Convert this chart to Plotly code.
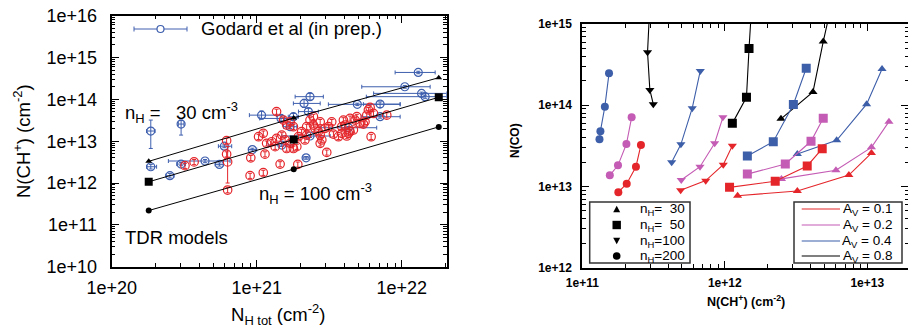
import plotly.graph_objects as go

# ---------------- Left panel data ----------------
model_NH = [1.8e20, 1.8e21, 1.8e22]
model_CH_n30 = [3.3e12, 3.6e13, 3.3e14]
model_CH_n50 = [1.07e12, 1.1e13, 1.12e14]
model_CH_n100 = [2.2e11, 2.15e12, 2.2e13]

blue_NH = [1.86e20, 3.01e20, 1.86e20, 2.52e20, 3.01e20, 4.40e20, 5.53e20, 5.98e20, 9.33e20,
           1.08e21, 1.47e21, 1.79e21, 1.70e21, 2.12e21, 2.33e21, 2.27e21, 2.33e21, 2.19e21,
           1.49e21, 4.29e21, 4.94e21, 7.09e21, 7.09e21, 1.05e22, 1.30e22, 1.37e22, 1.45e22]
blue_CH = [1.75e13, 2.57e13, 2.45e12, 1.5e12, 2.84e12, 3.36e12, 2.79e12, 7.6e12, 6.3e12,
           4.2e13, 3.5e13, 3.85e13, 2.22e13, 8.0e13, 1.16e14, 5.1e13, 1.33e13, 4.0e12,
           8.1e12, 2.1e13, 7.6e13, 7.7e13, 3.85e13, 2.0e14, 4.4e14, 1.39e14, 1.16e14]
blue_NH_err_minus = [0.12e20, 0.13e20, 0.12e20, 0.16e20, 0.2e20, 1.94e20, 0.37e20, 0.54e20, 0.57e20,
                     1.9e20, 4.2e20, 1.4e20, 1.7e20, 3.3e20, 4.9e20, 3.3e20, 8.4e20, 1.0e20,
                     2.9e20, 1.55e21, 1.82e21, 1.65e21, 1.79e21, 5.2e21, 4.0e21, 7.3e21, 8.8e21]
blue_NH_err_plus = [0.13e20, 0.14e20, 0.18e20, 0.17e20, 0.21e20, 2.15e20, 0.36e20, 0.74e20, 0.67e20,
                    2.9e20, 3.2e20, 1.5e20, 1.9e20, 6.2e20, 5.5e20, 3.9e20, 8.8e20, 1.0e20,
                    3.0e20, 2.43e21, 4.81e21, 2.66e21, 2.66e21, 5.2e21, 4.0e21, 6.7e21, 5.9e21]
blue_CH_err_minus = [1.08e13, 1.17e13, 0.29e12, 0.18e12, 0.25e12, 0.3e12, 0.25e12, 0.6e12, 0.5e12,
                     0.81e13, 0.47e13, 0.76e13, 0.2e13, 1.6e13, 0.2e14, 0.8e13, 0.1e13, 0.3e12,
                     0.6e12, 0.15e13, 0.5e13, 1.3e13, 0.3e13, 0.15e14, 0.3e14, 0.1e14, 0.1e14]
blue_CH_err_plus = [1.45e13, 0.63e13, 0.34e12, 0.2e12, 0.25e12, 0.3e12, 0.25e12, 0.6e12, 0.5e12,
                    1.06e13, 0.57e13, 0.75e13, 0.2e13, 2.0e13, 0.23e14, 1.0e13, 0.1e13, 0.3e12,
                    0.6e12, 0.15e13, 0.5e13, 1.0e13, 0.3e13, 0.15e14, 0.3e14, 0.1e14, 0.1e14]

red_NH = [3.2e20, 3.7e20, 6.2e20, 6.2e20, 6.3e20, 9.0e20, 9.1e20, 1.11e21, 1.14e21, 1.45e21,
          1.92e21, 3.04e21, 6.15e21, 1.37e21, 1.03e21, 1.11e21, 1.17e21, 1.27e21, 1.34e21, 1.37e21,
          1.49e21, 1.57e21, 1.61e21, 1.70e21, 1.79e21, 1.89e21, 1.94e21, 2.04e21, 2.15e21, 2.21e21,
          2.33e21, 2.46e21, 2.52e21, 2.66e21, 2.74e21, 2.81e21, 2.96e21, 3.12e21, 3.29e21, 3.38e21,
          3.86e21, 3.96e21, 4.06e21, 4.18e21, 4.40e21, 4.64e21, 4.77e21, 4.90e21, 5.16e21, 5.44e21,
          5.58e21, 5.74e21, 5.89e21, 6.05e21, 6.38e21, 7.88e21, 3.66e21, 3.86e21, 1.79e21, 1.70e21,
          1.61e21, 1.53e21, 4.29e21, 2.46e21, 2.21e21, 2.74e21, 4.40e21, 2.74e21]
red_CH = [2.6e12, 3.2e12, 1.03e13, 4.9e12, 6.8e11, 1.5e12, 4.0e12, 1.77e12, 4.9e12, 2.84e12,
          2.79e12, 5.4e12, 1.28e13, 5.1e13, 1.28e13, 1.54e13, 8.9e12, 9.7e12, 7.4e12, 1.17e13,
          1.40e13, 1.07e13, 6.7e12, 8.9e12, 6.7e12, 7.4e12, 1.28e13, 1.69e13, 1.07e13, 2.22e13,
          3.2e13, 2.43e13, 2.03e13, 1.69e13, 1.40e13, 1.07e13, 2.03e13, 2.22e13, 2.9e13, 1.48e13,
          2.22e13, 3.2e13, 2.43e13, 1.33e13, 1.69e13, 1.85e13, 3.2e13, 3.85e13, 2.67e13, 2.57e13,
          2.9e13, 4.2e13, 5.6e13, 6.4e13, 4.6e13, 4.2e13, 1.28e13, 1.54e13, 2.22e13, 2.9e13,
          2.43e13, 3.2e13, 1.54e13, 3.85e13, 1.40e13, 2.9e13, 3.5e13, 8.9e12]
red_big_NH = [6.3e20]
red_big_CH = [3.2e12]
red_big_err_plus = [4.2e12]
red_big_err_minus = [2.2e12]

left_x_ticks = [1e20, 1e21, 1e22]
left_x_labels = ["1e+20", "1e+21", "1e+22"]
left_y_ticks = [1e10, 1e11, 1e12, 1e13, 1e14, 1e15, 1e16]
left_y_labels = ["1e+10", "1e+11", "1e+12", "1e+13", "1e+14", "1e+15", "1e+16"]

# ---------------- Right panel data (N(CH+), N(CO)) ----------------
n30_av01_x = [1.23e12, 3.23e12, 7.43e12, 1.07e13]; n30_av01_y = [7.7e12, 8.8e12, 1.38e13, 2.58e13]
n30_av02_x = [2.5e12, 6.03e12, 1.07e13, 1.42e13];  n30_av02_y = [1.24e13, 1.58e13, 3.03e13, 6.28e13]
n30_av04_x = [3.23e12, 6.1e12, 9.9e12, 1.27e13];   n30_av04_y = [2.51e13, 3.7e13, 1.03e14, 2.8e14]
n30_av08_x = [2.48e12, 4.16e12, 4.91e12, 6.07e12]; n30_av08_y = [6.8e13, 1.46e14, 6.07e14, 3.2e15]

n50_av01_x = [1.08e12, 2.26e12, 3.79e12, 4.83e12]; n50_av01_y = [9.75e12, 1.16e13, 1.79e13, 2.92e13]
n50_av02_x = [1.44e12, 2.66e12, 4.03e12, 4.91e12]; n50_av02_y = [1.42e13, 1.89e13, 3.6e13, 6.9e13]
n50_av04_x = [1.44e12, 2.19e12, 3.03e12, 3.73e12]; n50_av04_y = [2.37e13, 3.56e13, 1.02e14, 2.85e14]
n50_av08_x = [1.13e12, 1.42e12, 1.48e12, 1.58e12]; n50_av08_y = [5.98e13, 1.25e14, 5.0e14, 3.2e15]

n100_av01_x = [4.9e11, 7.35e11, 9.76e11, 1.13e12]; n100_av01_y = [9.0e12, 1.18e13, 1.85e13, 3.18e13]
n100_av02_x = [4.95e11, 6.7e11, 8.49e11, 9.7e11]; n100_av02_y = [1.2e13, 1.75e13, 3.4e13, 7.1e13]
n100_av04_x = [4.24e11, 4.92e11, 5.91e11, 6.73e11]; n100_av04_y = [1.98e13, 3.3e13, 9.2e13, 2.64e14]
n100_av08_x = [3.15e11, 2.98e11, 2.87e11, 3.03e11]; n100_av08_y = [1.03e14, 1.54e14, 4.48e14, 3.2e15]

n200_av01_x = [1.79e11, 2.05e11, 2.38e11, 2.58e11]; n200_av01_y = [8.5e12, 1.08e13, 1.75e13, 3.24e13]
n200_av02_x = [1.56e11, 1.78e11, 2.04e11, 2.22e11]; n200_av02_y = [1.37e13, 1.82e13, 3.33e13, 7.1e13]
n200_av04_x = [1.32e11, 1.34e11, 1.44e11, 1.54e11]; n200_av04_y = [3.8e13, 4.8e13, 9.6e13, 2.47e14]

right_x_ticks = [1e11, 1e12, 1e13]
right_x_labels = ["1e+11", "1e+12", "1e+13"]
right_y_ticks = [1e12, 1e13, 1e14, 1e15]
right_y_labels = ["1e+12", "1e+13", "1e+14", "1e+15"]

nh_legend = ["n<sub>H</sub>=\u00a0\u00a030", "n<sub>H</sub>=\u00a0\u00a050",
             "n<sub>H</sub>=100", "n<sub>H</sub>=200"]
av_legend = ["A<sub>V</sub> = 0.1", "A<sub>V</sub> = 0.2", "A<sub>V</sub> = 0.4", "A<sub>V</sub> = 0.8"]

# ---------------- styling ----------------
W, H = 908, 328
RED = "#e4262b"
MAG = "#c45bb4"
BLUE_R = "#3d5ea9"
BLUE_L = "#3e5fae"
FONT = "Liberation Sans, Arial, Helvetica, sans-serif"

def px(x):
    return x / W

def py(y):
    return 1 - y / H

fig = go.Figure()

# Observations (Godard et al)
fig.add_trace(go.Scatter(
    x=blue_NH, y=blue_CH, mode="markers", xaxis="x", yaxis="y", showlegend=False,
    marker=dict(symbol="circle-open", size=8, color=BLUE_L, line=dict(width=1.2)),
    error_x=dict(type="data", symmetric=False, array=blue_NH_err_plus, arrayminus=blue_NH_err_minus,
                 color=BLUE_L, thickness=1, width=2),
    error_y=dict(type="data", symmetric=False, array=blue_CH_err_plus, arrayminus=blue_CH_err_minus,
                 color=BLUE_L, thickness=1, width=2),
))
fig.add_trace(go.Scatter(
    x=red_NH, y=red_CH, mode="markers", xaxis="x", yaxis="y", showlegend=False,
    marker=dict(symbol="circle-open", size=8.5, color=RED, line=dict(width=1.2)),
    error_y=dict(type="percent", value=14, color=RED, thickness=1, width=2),
))
fig.add_trace(go.Scatter(
    x=red_big_NH, y=red_big_CH, mode="markers", xaxis="x", yaxis="y", showlegend=False,
    marker=dict(symbol="circle-open", size=8.5, color=RED, line=dict(width=1.2)),
    error_y=dict(type="data", symmetric=False, array=red_big_err_plus, arrayminus=red_big_err_minus,
                 color=RED, thickness=1, width=2),
))

# TDR model tracks
for ys, sym, size in [(model_CH_n30, "triangle-up", 6), (model_CH_n50, "square", 8),
                      (model_CH_n100, "circle", 6)]:
    fig.add_trace(go.Scatter(
        x=model_NH, y=ys, mode="lines+markers", xaxis="x", yaxis="y", showlegend=False,
        line=dict(color="black", width=1), marker=dict(symbol=sym, size=size, color="black"),
    ))

# Right panel model grid
right_series = [
    (n30_av01_x, n30_av01_y, RED, "triangle-up", 8),
    (n30_av02_x, n30_av02_y, MAG, "triangle-up", 8),
    (n30_av04_x, n30_av04_y, BLUE_R, "triangle-up", 8),
    (n30_av08_x, n30_av08_y, "black", "triangle-up", 8),
    (n50_av01_x, n50_av01_y, RED, "square", 9),
    (n50_av02_x, n50_av02_y, MAG, "square", 9),
    (n50_av04_x, n50_av04_y, BLUE_R, "square", 9),
    (n50_av08_x, n50_av08_y, "black", "square", 9),
    (n100_av01_x, n100_av01_y, RED, "triangle-down", 8),
    (n100_av02_x, n100_av02_y, MAG, "triangle-down", 8),
    (n100_av04_x, n100_av04_y, BLUE_R, "triangle-down", 8),
    (n100_av08_x, n100_av08_y, "black", "triangle-down", 8),
    (n200_av01_x, n200_av01_y, RED, "circle", 8),
    (n200_av02_x, n200_av02_y, MAG, "circle", 8),
    (n200_av04_x, n200_av04_y, BLUE_R, "circle", 8),
]
for xs, ys, col, sym, size in right_series:
    fig.add_trace(go.Scatter(
        x=xs, y=ys, mode="lines+markers", xaxis="x2", yaxis="y2", showlegend=False,
        line=dict(color=col, width=1.1), marker=dict(symbol=sym, size=size, color=col),
    ))

def axis(domain, rng, tv, tt, anchor, fsize, weight, standoff):
    return dict(
        type="log", domain=domain, range=rng, anchor=anchor, automargin=False,
        tickmode="array", tickvals=tv, ticktext=tt,
        showgrid=False, zeroline=False, showline=True, linecolor="black", linewidth=2,
        mirror="allticks", ticks="inside", ticklen=7, tickwidth=1, tickcolor="black",
        minor=dict(ticks="inside", ticklen=3.5, tickwidth=1, tickcolor="black", dtick="D1", showgrid=False),
        tickfont=dict(family=FONT, size=fsize, color="black", weight=weight),
        ticklabelstandoff=standoff,
    )

fig.update_layout(
    width=W, height=H, margin=dict(l=0, r=0, t=0, b=0, pad=0, autoexpand=False), autosize=False,
    paper_bgcolor="white", plot_bgcolor="white", showlegend=False,
    xaxis=axis([px(111.7), px(446.7)], [20, 22.31], left_x_ticks, left_x_labels, "y", 18, "normal", 4),
    yaxis=axis([py(266.7), py(15.7)], [10, 16], left_y_ticks, left_y_labels, "x", 18, "normal", 9),
    xaxis2=axis([px(582.3), 1.0], [11, 13.286], right_x_ticks, right_x_labels, "y2", 12, "bold", 3),
    yaxis2=axis([py(267.7), py(24)], [12, 15], right_y_ticks, right_y_labels, "x2", 12, "bold", 6),
)

ann = []
def text(x, y, s, size, anchor="left", angle=0, weight="normal"):
    ann.append(dict(x=px(x), y=py(y), xref="paper", yref="paper", text=s, showarrow=False,
                    xanchor=anchor, yanchor="middle", textangle=angle,
                    font=dict(family=FONT, size=size, color="black", weight=weight)))

# Left panel texts
text(199, 29, "Godard et al (in prep.)", 18.5)
text(123, 113, "n<sub>H</sub> =\u00a0\u00a0 30 cm<sup>-3</sup>", 18.5)
text(257, 193, "n<sub>H</sub> = 100 cm<sup>-3</sup>", 18.5)
text(123, 237, "TDR models", 18.5)
text(278, 314, "N<sub>H tot</sub> (cm<sup>-2</sup>)", 18.5, anchor="center")
text(22, 141, "N(CH<sup>+</sup>) (cm<sup>-2</sup>)", 18.5, anchor="center", angle=-90)

# Right panel texts
text(515, 141, "N(CO)", 12, anchor="center", angle=-90, weight="bold")
text(746, 301, "N(CH<sup>+</sup>) (cm<sup>-2</sup>)", 12.5, anchor="center", weight="bold")
rows = [209, 225, 241, 256]
for r, s in zip(rows, nh_legend):
    text(687, r, s, 13.5, anchor="right")
for r, s in zip(rows, av_legend):
    text(894, r, s, 13.5, anchor="right")

shapes = []
# Godard legend key
shapes.append(dict(type="line", xref="paper", yref="paper", x0=px(134), x1=px(187), y0=py(29), y1=py(29),
                   line=dict(color=BLUE_L, width=1)))
for xc in (134, 187):
    shapes.append(dict(type="line", xref="paper", yref="paper", x0=px(xc), x1=px(xc), y0=py(26.5), y1=py(31.5),
                       line=dict(color=BLUE_L, width=1)))
shapes.append(dict(type="circle", xref="paper", yref="paper", x0=px(157), x1=px(164), y0=py(32.5), y1=py(25.5),
                   line=dict(color=BLUE_L, width=1.2), fillcolor="white"))

# Right legend boxes
for x0, x1 in [(589.7, 690), (794, 902)]:
    shapes.append(dict(type="rect", xref="paper", yref="paper", x0=px(x0), x1=px(x1), y0=py(263), y1=py(202),
                       line=dict(color="#333333", width=1.5), fillcolor="white", layer="above"))
# marker keys
mx = 616.7
def tri(cx, cy, s, up=True):
    h = s * 0.9
    if up:
        pts = [(cx - s / 2, cy + h / 2), (cx + s / 2, cy + h / 2), (cx, cy - h / 2)]
    else:
        pts = [(cx - s / 2, cy - h / 2), (cx + s / 2, cy - h / 2), (cx, cy + h / 2)]
    path = "M " + " L ".join(f"{px(a)},{py(b)}" for a, b in pts) + " Z"
    return dict(type="path", xref="paper", yref="paper", path=path, fillcolor="black",
                line=dict(color="black", width=0), layer="above")
shapes.append(tri(mx, 209, 7, True))
shapes.append(dict(type="rect", xref="paper", yref="paper", x0=px(mx - 4.2), x1=px(mx + 4.2),
                   y0=py(225 + 4.2), y1=py(225 - 4.2), fillcolor="black", line=dict(width=0), layer="above"))
shapes.append(tri(mx, 241, 7, False))
shapes.append(dict(type="circle", xref="paper", yref="paper", x0=px(mx - 3.8), x1=px(mx + 3.8),
                   y0=py(256 + 3.8), y1=py(256 - 3.8), fillcolor="black", line=dict(width=0), layer="above"))
for r, col in zip(rows, [RED, MAG, BLUE_R, "black"]):
    shapes.append(dict(type="line", xref="paper", yref="paper", x0=px(801.7), x1=px(840), y0=py(r), y1=py(r),
                       line=dict(color=col, width=1.2), layer="above"))

fig.update_layout(annotations=ann, shapes=shapes)
fig.write_html("out.html", config={"displayModeBar": False},
               post_script="document.body.style.margin='0px';document.body.style.overflow='hidden';")
